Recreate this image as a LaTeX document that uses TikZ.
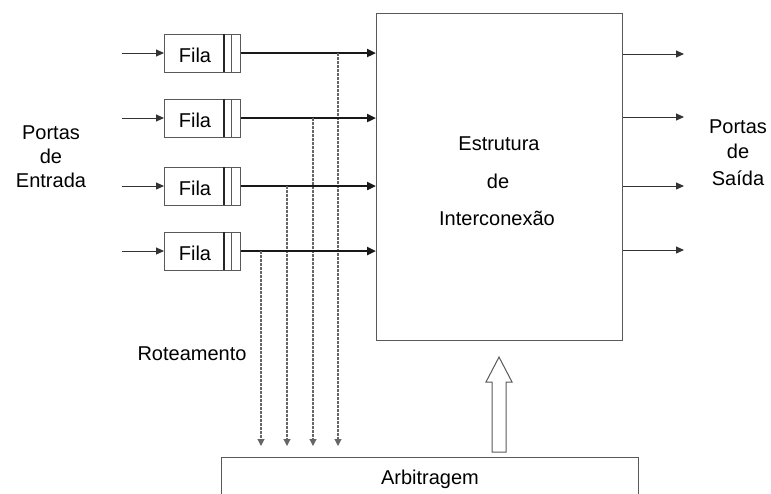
\documentclass[tikz,border=0pt]{standalone}
\usepackage{fontspec}
\setmainfont{Liberation Sans}
\usetikzlibrary{arrows.meta}
\begin{document}
\begin{tikzpicture}[x=1pt,y=-1pt,
  every node/.style={font=\fontsize{20}{24}\selectfont, text=black},
  lbl/.style={anchor=base, inner sep=0pt},
  box/.style={draw=black!65, line width=1pt},
  thin/.style={draw=black!80, line width=1pt, -{Triangle[length=8pt,width=7pt]}},
  thick/.style={draw=black!90, line width=2.5pt, -{Triangle[length=9pt,width=8pt]}},
  route/.style={draw=black!60, line width=1.1pt, dash pattern=on 2.5pt off 1.5pt, -{Triangle[length=7pt,width=7pt]}}]
\useasboundingbox (0,0) rectangle (771,493);

% switching fabric
\node[box, minimum width=246pt, minimum height=327pt, anchor=north west] (fab) at (376,13) {};
\node[lbl] at (499,150) {Estrutura};
\node[lbl] at (498,188) {de};
\node[lbl] at (497,225) {Interconexão};

% arbiter (runs off the bottom edge)
\draw[box] (221,498) -- (221,457) -- (638,457) -- (638,498);
\coordinate (arb) at (430,457);
\node[lbl] at (430,484) (arbt) {Arbitragem};

% grant arrow from arbiter to the fabric
\draw[box, fill=white] (492,452) -- (492,382) -- (486,382) -- (499,357) -- (512,382) -- (506,382) -- (506,452) -- cycle;

% input queues
\foreach \i/\y/\x in {1/53/338, 2/118/313, 3/186/287, 4/251/261}{
  \node[box, minimum width=76pt, minimum height=38pt, anchor=west, inner sep=0pt] (q\i) at (164,\y) {};
  \node[lbl] at (195,\y+9) {Fila};
  \draw[draw=black!85, line width=1.4pt] (224,\y-19) -- (224,\y+19);
  \draw[box] (231,\y-19) -- (231,\y+19);
  \coordinate (in\i) at (122,\y);
  \coordinate (tap\i) at (\x,\y);
  \coordinate (req\i) at (\x,446);
  \draw[thin] (in\i) -- (q\i.west);
  \draw[thick] (q\i.east) -- (fab.west |- q\i.east);
  \draw[route] (tap\i) -- (req\i);
}

% output ports
\foreach \y in {54,117,186,250}{
  \draw[thin] (fab.east |- 0,\y) -- (684,\y);
}

% labels
\node[lbl] at (51,139) {Portas};
\node[lbl] at (51,163) {de};
\node[lbl] at (51,187) {Entrada};
\node[lbl] at (738,133) {Portas};
\node[lbl] at (738,158) {de};
\node[lbl] at (738,185) {Saída};
\node[lbl] at (192,360) (rot) {Roteamento};
\end{tikzpicture}
\end{document}
